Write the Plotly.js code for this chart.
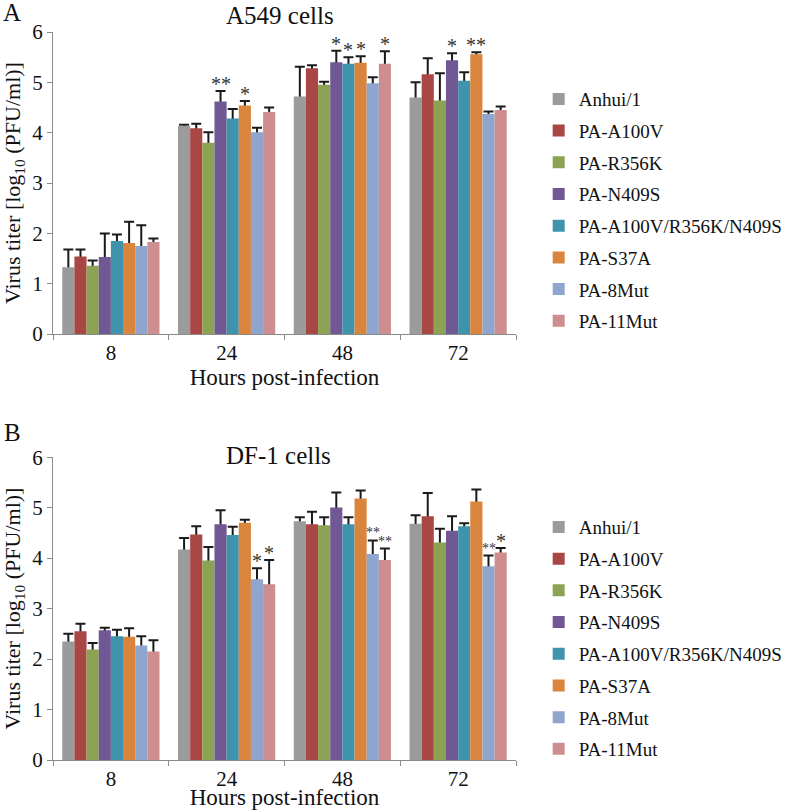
<!DOCTYPE html>
<html>
<head>
<meta charset="utf-8">
<script src="https://cdn.plot.ly/plotly-3.0.1.min.js"></script>
<style>
  html, body { margin: 0; padding: 0; background: #fff; }
  #chart { width: 800px; height: 810px; }
</style>
</head>
<body>
<div id="chart"></div>
<script>
var hours = ['8', '24', '48', '72'];
var strains = ['Anhui/1', 'PA-A100V', 'PA-R356K', 'PA-N409S',
    'PA-A100V/R356K/N409S', 'PA-S37A', 'PA-8Mut', 'PA-11Mut'];
var colors = ['#9b9b9b', '#a84744', '#8ba352', '#6f5893',
    '#3f93ac', '#d9853d', '#8ea6cd', '#ce8e8f'];

// A549 cells, one row per strain (8, 24, 48, 72 h)
var a549Mean = [
    [1.33, 4.14, 4.72, 4.70],
    [1.54, 4.09, 5.28, 5.16],
    [1.36, 3.80, 4.95, 4.64],
    [1.53, 4.62, 5.40, 5.44],
    [1.85, 4.28, 5.37, 5.03],
    [1.81, 4.54, 5.39, 5.56],
    [1.75, 4.01, 4.98, 4.37],
    [1.83, 4.41, 5.37, 4.45]
];
var a549Err = [
    [0.35, 0.02, 0.59, 0.30],
    [0.14, 0.09, 0.06, 0.32],
    [0.10, 0.21, 0.06, 0.54],
    [0.47, 0.21, 0.23, 0.14],
    [0.13, 0.19, 0.13, 0.17],
    [0.42, 0.09, 0.13, 0.04],
    [0.41, 0.09, 0.12, 0.05],
    [0.07, 0.09, 0.25, 0.07]
];

// DF-1 cells
var df1Mean = [
    [2.35, 4.17, 4.73, 4.68],
    [2.55, 4.47, 4.67, 4.83],
    [2.19, 3.95, 4.65, 4.31],
    [2.57, 4.67, 5.00, 4.54],
    [2.45, 4.46, 4.67, 4.63],
    [2.44, 4.70, 5.18, 5.12],
    [2.27, 3.58, 4.08, 3.84],
    [2.15, 3.48, 3.96, 4.11]
];
var df1Err = [
    [0.15, 0.23, 0.08, 0.17],
    [0.15, 0.16, 0.25, 0.46],
    [0.13, 0.27, 0.16, 0.27],
    [0.05, 0.28, 0.30, 0.29],
    [0.13, 0.16, 0.14, 0.06],
    [0.17, 0.06, 0.16, 0.24],
    [0.18, 0.22, 0.27, 0.21],
    [0.22, 0.48, 0.23, 0.09]
];

// significance marks: [hour index, strain index, label]
var a549Stars = [[1, 3, '**'], [1, 5, '*'], [2, 3, '*'], [2, 4, '*'], [2, 5, '*'],
    [2, 7, '*'], [3, 3, '*'], [3, 5, '**']];
var df1Stars = [[1, 6, '*'], [1, 7, '*'], [2, 6, '**'], [2, 7, '**'], [3, 6, '**'], [3, 7, '*']];

var font = 'Liberation Serif, Times New Roman, serif';
var bargap = 0.16;

function panelTraces(means, errs, xa, ya, legendName) {
    var traces = [];
    strains.forEach(function (s, i) {
        // transparent bar that only carries the upper error bar,
        // the coloured bar drawn after it hides the lower half
        traces.push({
            type: 'bar', x: hours, y: means[i],
            xaxis: xa, yaxis: ya, offsetgroup: 'g' + i,
            marker: { color: 'rgba(0,0,0,0)' },
            error_y: {
                type: 'data', symmetric: false, array: errs[i],
                arrayminus: means[i].map(function (m) { return m / 2; }),
                color: '#1a1a1a', thickness: 2, width: 5
            },
            showlegend: false, hoverinfo: 'skip'
        });
        traces.push({
            type: 'bar', x: hours, y: means[i], name: s,
            xaxis: xa, yaxis: ya, offsetgroup: 'g' + i,
            marker: { color: colors[i] },
            legend: legendName, legendgroup: legendName + i
        });
    });
    return traces;
}

function starNotes(stars, means, errs, xa, ya, small) {
    var w = (1 - bargap) / strains.length;
    return stars.map(function (st) {
        var h = st[0], i = st[1];
        var sz = (small && st[2] === '**') ? 14 : 20;
        return {
            xref: xa, yref: ya,
            x: h + (i - (strains.length - 1) / 2) * w,
            y: means[i][h] + errs[i][h],
            text: st[2], showarrow: false,
            yanchor: 'bottom', yshift: sz === 14 ? -2 : -6,
            font: { family: font, size: sz, color: '#333' }
        };
    });
}

var data = panelTraces(a549Mean, a549Err, 'x', 'y', 'legend')
    .concat(panelTraces(df1Mean, df1Err, 'x2', 'y2', 'legend2'));

function xAxis(anchor) {
    return {
        anchor: anchor, domain: [0, 1], type: 'category',
        tickson: 'boundaries', ticks: 'outside', ticklen: 5,
        tickcolor: '#8c8c8c', showline: true, linecolor: '#8c8c8c',
        showgrid: false, tickfont: { family: font, size: 21, color: '#111' },
        title: { text: 'Hours post-infection', font: { family: font, size: 23, color: '#111' }, standoff: 2 }
    };
}
function yAxis(anchor, domain) {
    return {
        anchor: anchor, domain: domain, range: [0, 6], dtick: 1,
        ticks: 'outside', ticklen: 5, tickcolor: '#8c8c8c',
        showline: true, linecolor: '#8c8c8c', showgrid: false, zeroline: false,
        tickfont: { family: font, size: 21, color: '#111' },
        title: { text: 'Virus titer [log<sub>10</sub> (PFU/ml)]', font: { family: font, size: 22, color: '#111' }, standoff: 8 }
    };
}
function legendBox(y) {
    return {
        x: 1.049, y: y, xanchor: 'left', yanchor: 'top',
        font: { family: font, size: 19, color: '#111' },
        tracegroupgap: 4, bgcolor: 'rgba(0,0,0,0)'
    };
}

function label(x, y, text) {
    return { xref: 'paper', yref: 'paper', x: x, y: y, text: text, showarrow: false,
        xanchor: 'center', yanchor: 'middle', font: { family: font, size: 25, color: '#111' } };
}

var annotations = [
    label(-0.088, 1.027, 'A'),
    label(-0.088, 0.4505, 'B'),
    label(0.49, 1.022, 'A549 cells'),
    label(0.488, 0.4176, 'DF-1 cells')
].concat(starNotes(a549Stars, a549Mean, a549Err, 'x', 'y', false))
 .concat(starNotes(df1Stars, df1Mean, df1Err, 'x2', 'y2', true));

var layout = {
    width: 800, height: 810,
    margin: { l: 53, r: 280, t: 32, b: 50 },
    paper_bgcolor: '#fff', plot_bgcolor: '#fff',
    barmode: 'group', bargap: bargap, bargroupgap: 0,
    font: { family: font },
    xaxis: xAxis('y'),
    yaxis: yAxis('x', [0.585, 1]),
    xaxis2: xAxis('y2'),
    yaxis2: yAxis('x2', [0, 0.416]),
    legend: legendBox(0.934),
    legend2: legendBox(0.346),
    annotations: annotations
};

Plotly.newPlot('chart', data, layout, { displayModeBar: false });
</script>
</body>
</html>
